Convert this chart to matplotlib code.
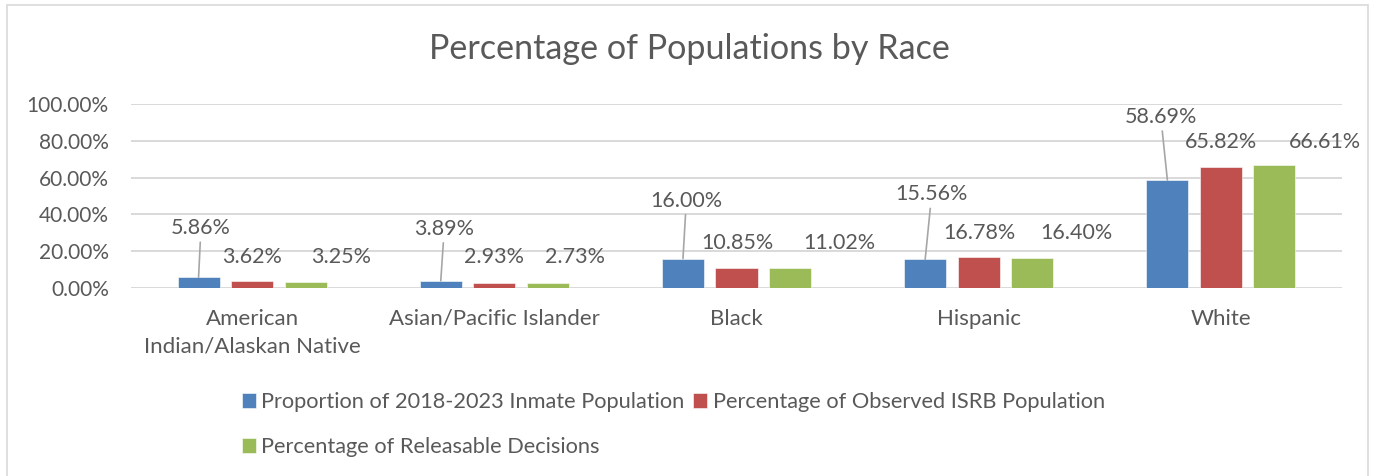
import matplotlib
matplotlib.use("Agg")
import matplotlib.pyplot as plt
from matplotlib.patches import Rectangle
import numpy as np

categories = ["American\nIndian/Alaskan Native", "Asian/Pacific Islander", "Black", "Hispanic", "White"]
series_names = ["Proportion of 2018-2023 Inmate Population",
                "Percentage of Observed ISRB Population",
                "Percentage of Releasable Decisions"]
inmate = [5.86, 3.89, 16.00, 15.56, 58.69]
isrb = [3.62, 2.93, 10.85, 16.78, 65.82]
releasable = [3.25, 2.73, 11.02, 16.40, 66.61]
yticks = [0, 20, 40, 60, 80, 100]

colors = ["#4F81BD", "#C0504D", "#9BBB59"]
# label offsets (pixels) from bar top-centre, per series per category
label_offsets = [
    [(2, 49), (3, 52), (3, 58), (6, 65), (-6, 63)],
    [(0, 24), (0, 26), (1, 25), (1, 24), (0, 25)],
    [(35, 25), (27, 26), (49, 25), (44, 25), (51, 23)],
]
leader = [True, False, False]

FONT = "Lato"
TXT = "#595959"
W, H = 1380, 476
fig = plt.figure(figsize=(W / 100, H / 100), dpi=100)
fig.patch.set_facecolor("white")
fig.patches.append(Rectangle((7 / W, -0.05), (1368 - 7) / W, 1.05 - 5 / H,
                             transform=fig.transFigure, fill=False,
                             edgecolor="#d9d9d9", linewidth=1.2))

ax = fig.add_axes([131 / W, 1 - 288 / H, (1342 - 131) / W, (288 - 104) / H])
ax.set_xlim(-0.5, len(categories) - 0.5)
ax.set_ylim(0, 100)
for s in ax.spines.values():
    s.set_visible(False)
ax.set_yticks(yticks)
ax.set_yticklabels([f"{v:.2f}%" for v in yticks], fontsize=15, family=FONT, color=TXT)
ax.set_xticks(np.arange(len(categories)))
ax.set_xticklabels(categories, fontsize=16, family=FONT, color=TXT, linespacing=1.5)
ax.tick_params(length=0, axis="y", pad=16)
ax.tick_params(length=0, axis="x", pad=15)
ax.grid(axis="y", color="#d9d9d9", linewidth=1.4)
ax.set_axisbelow(True)

bw = 0.174
step = 0.221
x = np.arange(len(categories))
all_series = [inmate, isrb, releasable]
handles = []
for i, vals in enumerate(all_series):
    xs = x + (i - 1) * step
    b = ax.bar(xs, vals, width=bw, color=colors[i], edgecolor="white", linewidth=0.4,
               label=series_names[i], zorder=3)
    handles.append(b)
    for j, v in enumerate(vals):
        dx, dy = label_offsets[i][j]
        ax.annotate(f"{v:.2f}%", xy=(xs[j], v), xytext=(dx, dy), textcoords="offset pixels",
                    ha="center", va="center", fontsize=15.5, family=FONT, color=TXT,
                    annotation_clip=False)
        if leader[i]:
            ax.annotate("", xy=(xs[j], v), xytext=(dx * 0.85, dy - 14), textcoords="offset pixels",
                        arrowprops=dict(arrowstyle="-", color="#a6a6a6", lw=1.2,
                                        shrinkA=0, shrinkB=0),
                        annotation_clip=False)

fig.text(0.5 * (430 + 948) / W, 1 - 49 / H, "Percentage of Populations by Race",
         ha="center", va="center", fontsize=24.6, family=FONT, color=TXT)

order = [0, 2, 1]
leg = fig.legend([handles[k] for k in order], [series_names[k] for k in order],
                 ncol=2, loc="upper left", bbox_to_anchor=(242 / W, 1 - 392 / H),
                 frameon=False, prop={"family": FONT, "size": 15.7},
                 handlelength=0.64, handleheight=0.64, handletextpad=0.25,
                 columnspacing=0.4, labelspacing=1.15, borderpad=0, borderaxespad=0)
for t in leg.get_texts():
    t.set_color(TXT)

fig.savefig("out.png", dpi=100)
